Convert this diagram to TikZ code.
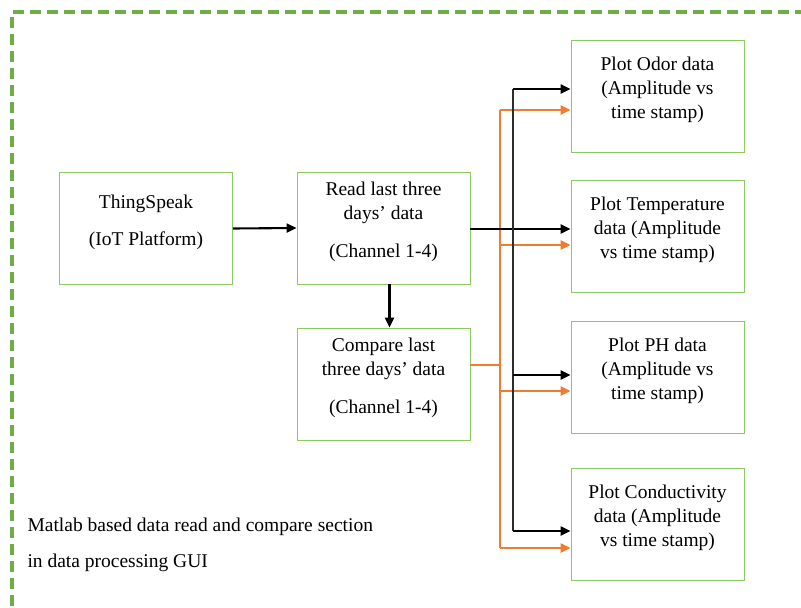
\documentclass[tikz,border=0pt]{standalone}
\usepackage{fontspec}
\setmainfont{Liberation Serif}
\usetikzlibrary{arrows.meta}

\definecolor{framegreen}{RGB}{112,173,71}
\definecolor{boxgreen}{RGB}{140,200,100}
\definecolor{wireorange}{RGB}{237,125,49}
\definecolor{busgray}{RGB}{45,45,45}

\tikzset{
  framedash/.style={draw=framegreen, line width=3.2pt, dash pattern=on 11pt off 6pt},
  blockbox/.style={draw=boxgreen, line width=0.8pt, minimum width=173pt, minimum height=112pt,
    align=center, text depth=17pt, font=\fontsize{19.5}{24}\selectfont},
  blkwire/.style={draw=black, line width=2.1pt},
  orgwire/.style={draw=wireorange, line width=2.1pt},
  busline/.style={draw=busgray, line width=2.8pt},
  captext/.style={anchor=west, font=\fontsize{19.5}{24}\selectfont}
}

\begin{document}
\begin{tikzpicture}[x=1pt, y=-1pt, >={Triangle[length=10pt,width=9pt]}]
    \useasboundingbox (0,0) rectangle (801,608);

    % outer dashed frame, only its top and left edges are on the page
    \draw[framedash] (12,640) -- (12,12) -- (840,12);

    % blocks
    \node[blockbox] (thing) at (146,228.5) {ThingSpeak\\[13pt](IoT Platform)};
    \node[blockbox] (read) at (383.5,228) {Read last three\\days' data\\[14pt](Channel 1-4)};
    \node[blockbox] (comp) at (383.5,384) {Compare last\\three days' data\\[14pt](Channel 1-4)};
    \node[blockbox] (odor) at (657.5,96) {Plot Odor data\\(Amplitude vs\\time stamp)};
    \node[blockbox] (temp) at (657.5,236) {Plot Temperature\\data (Amplitude\\vs time stamp)};
    \node[blockbox] (ph) at (657.5,377) {Plot PH data\\(Amplitude vs\\time stamp)};
    \node[blockbox] (cond) at (657.5,524.5) {Plot Conductivity\\data (Amplitude\\vs time stamp)};

    % the two vertical buses
    \coordinate (orgbus) at (500,0);
    \coordinate (blkbus) at (513,0);

    % orange wires from the compare block
    \draw[orgwire] (comp.east |- 0,365) -- (orgbus |- 0,365);
    \draw[orgwire] (orgbus |- 0,110) -- (orgbus |- 0,548);
    \foreach \blk/\yy in {odor/110, temp/245, ph/391, cond/548}
        \draw[orgwire,->] (orgbus |- 0,\yy) -- (\blk.west |- 0,\yy);

    % black wires
    \draw[blkwire,->] (thing.east) -- (read.west);
    \draw[blkwire,->] ([xshift=6pt]read.south) -- ([xshift=6pt]comp.north);
    \draw[blkwire,->] (read.east |- 0,229) -- (temp.west |- 0,229);
    \draw[busline] (blkbus |- 0,89) -- (blkbus |- 0,531);
    \foreach \blk/\yy in {odor/89, ph/375, cond/531}
        \draw[blkwire,->] (blkbus |- 0,\yy) -- (\blk.west |- 0,\yy);

    % caption
    \node[captext] (capa) at (24,527) {Matlab based data read and compare section};
    \node[captext] (capb) at (24,563) {in data processing GUI};
\end{tikzpicture}
\end{document}
